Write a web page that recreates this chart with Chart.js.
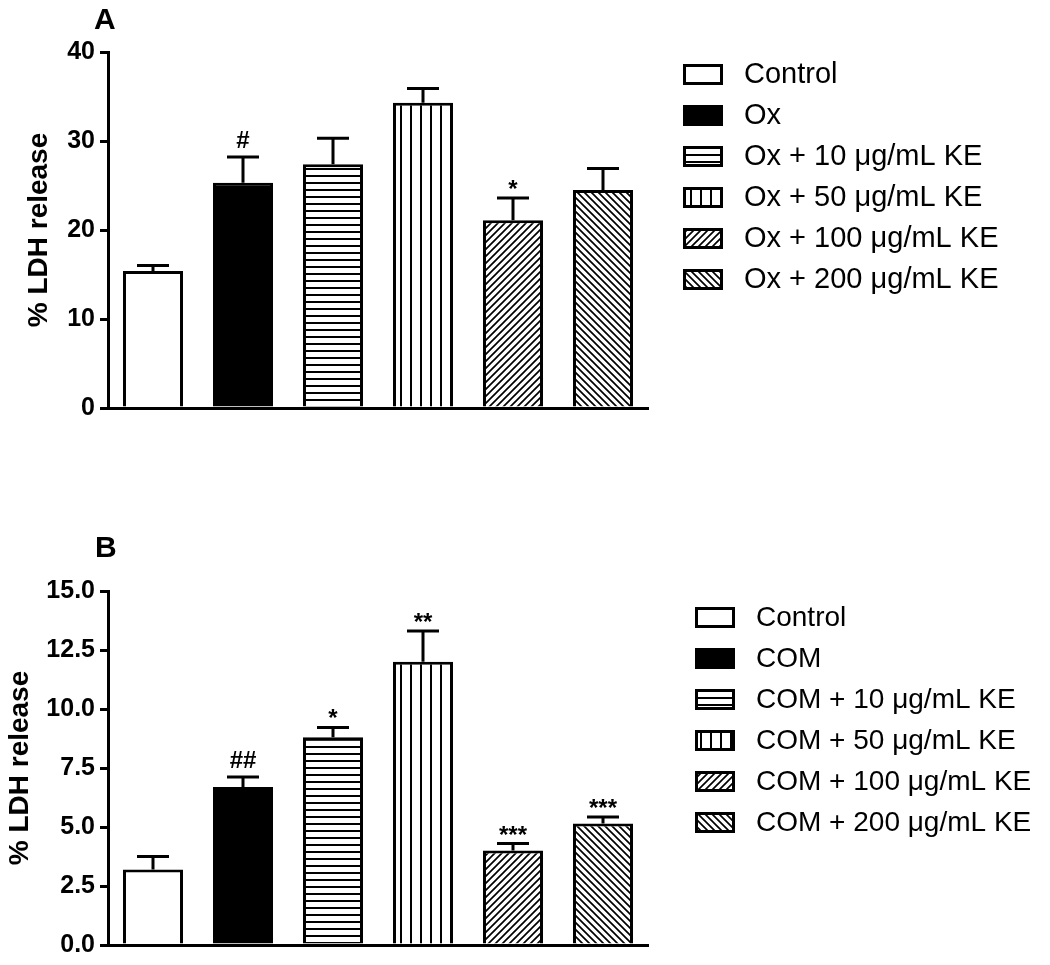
<!DOCTYPE html>
<html>
<head>
<meta charset="utf-8">
<script src="https://cdn.jsdelivr.net/npm/chart.js@4.4.1/dist/chart.umd.min.js"></script>
<style>
  body { margin: 0; background: #fff; }
  #wrap { position: relative; width: 1050px; height: 965px; }
  canvas { position: absolute; left: 0; }
  #chartA { top: 0; }
  #chartB { top: 480px; }
</style>
</head>
<body>
<div id="wrap">
  <canvas id="chartA" width="1050" height="480"></canvas>
  <canvas id="chartB" width="1050" height="485"></canvas>
</div>
<script>
// panel A - oxalate
const groupsA = ['Control', 'Ox', 'Ox + 10 μg/mL KE', 'Ox + 50 μg/mL KE', 'Ox + 100 μg/mL KE', 'Ox + 200 μg/mL KE']
const ldhA = [15.4, 25.3, 27.4, 34.3, 21.1, 24.5]
const semA = [0.6, 2.9, 2.9, 1.6, 2.5, 2.4]
const marksA = ['', '#', '', '', '*', '']
const ticksA = [0, 10, 20, 30, 40]

// panel B - COM crystals
const groupsB = ['Control', 'COM', 'COM + 10 μg/mL KE', 'COM + 50 μg/mL KE', 'COM + 100 μg/mL KE', 'COM + 200 μg/mL KE']
const ldhB = [3.2, 6.7, 8.8, 12.0, 4.0, 5.15]
const semB = [0.55, 0.42, 0.42, 1.3, 0.3, 0.27]
const marksB = ['', '##', '*', '**', '***', '***']
const ticksB = [0, 2.5, 5, 7.5, 10, 12.5, 15]

const FONT = "'Liberation Sans', Arial, Helvetica, sans-serif"

function tile(w, h, draw) {
  const c = document.createElement('canvas')
  c.width = w
  c.height = h
  const g = c.getContext('2d')
  g.fillStyle = '#fff'
  g.fillRect(0, 0, w, h)
  g.fillStyle = '#000'
  g.strokeStyle = '#000'
  draw(g)
  return c.getContext('2d').createPattern(c, 'repeat')
}

function diag(g, s, back) {
  g.lineWidth = 1.7
  g.beginPath()
  const seg = (x1, y1, x2, y2) => {
    if (back) { x1 = s - x1; x2 = s - x2 }
    g.moveTo(x1, y1); g.lineTo(x2, y2)
  }
  seg(0, s, s, 0)
  seg(-1, 1, 1, -1)
  seg(s - 1, s + 1, s + 1, s - 1)
  g.stroke()
}

const fills = [
  '#fff',
  '#000',
  tile(8, 7, g => g.fillRect(0, 0, 8, 2)),
  tile(10, 8, g => g.fillRect(0, 0, 2, 8)),
  tile(7, 7, g => diag(g, 7, false)),
  tile(7, 7, g => diag(g, 7, true)),
]

const extras = {
  id: 'extras',
  afterDatasetsDraw(chart, args, o) {
    const ctx = chart.ctx
    const y = chart.scales.y
    const meta = chart.getDatasetMeta(0)
    ctx.save()
    ctx.strokeStyle = '#000'
    ctx.fillStyle = '#000'
    ctx.lineWidth = 3
    o.errors.forEach((e, i) => {
      const bar = meta.data[i]
      const top = y.getPixelForValue(o.values[i])
      const cap = y.getPixelForValue(o.values[i] + e)
      ctx.beginPath()
      ctx.moveTo(bar.x, top)
      ctx.lineTo(bar.x, cap)
      ctx.moveTo(bar.x - 16, cap)
      ctx.lineTo(bar.x + 16, cap)
      ctx.stroke()
      const m = o.marks[i]
      if (m) {
        ctx.font = 'bold 24px ' + FONT
        ctx.textAlign = 'center'
        ctx.textBaseline = 'alphabetic'
        ctx.fillText(m, bar.x, m.includes('#') ? cap - 9 : cap - 1)
      }
    })
    ctx.restore()
  },
  afterDraw(chart, args, o) {
    const ctx = chart.ctx
    const area = chart.chartArea
    ctx.save()
    // panel letter
    ctx.fillStyle = '#000'
    ctx.font = 'bold 30px ' + FONT
    ctx.textAlign = 'left'
    ctx.textBaseline = 'alphabetic'
    ctx.fillText(o.letter, o.letterX, o.letterY)
    // legend
    const bx = area.right + o.legendDx
    let by = area.top + o.legendDy
    ctx.font = o.legendFont + 'px ' + FONT
    ctx.textBaseline = 'middle'
    o.labels.forEach((lab, i) => {
      ctx.fillStyle = fills[i]
      ctx.fillRect(bx, by, 40, 21)
      ctx.lineWidth = 3
      ctx.strokeStyle = '#000'
      ctx.strokeRect(bx + 1.5, by + 1.5, 37, 18)
      ctx.fillStyle = '#000'
      ctx.fillText(lab, bx + o.textDx, by + 11)
      by += 41
    })
    ctx.restore()
  },
}

function makeChart(id, labels, values, errors, marks, ticks, cfg) {
  const ctx = document.getElementById(id).getContext('2d')
  return new Chart(ctx, {
    type: 'bar',
    data: {
      labels: labels,
      datasets: [{
        data: values,
        backgroundColor: fills,
        borderColor: '#000',
        borderWidth: 3,
        borderSkipped: 'start',
        barPercentage: 0.667,
        categoryPercentage: 1,
      }],
    },
    options: {
      responsive: false,
      animation: false,
      layout: { padding: cfg.padding },
      scales: {
        x: {
          grid: { display: false },
          border: { display: true, color: '#000', width: 3 },
          ticks: { display: false },
          afterFit: s => { s.height = 0 },
        },
        y: {
          min: 0,
          max: ticks[ticks.length - 1],
          afterBuildTicks: s => { s.ticks = ticks.map(v => ({ value: v })) },
          afterFit: s => { s.width = 108 },
          grid: { drawOnChartArea: false, drawTicks: true, tickLength: 8, lineWidth: 3, color: '#000' },
          border: { display: true, color: '#000', width: 3 },
          ticks: {
            color: '#000',
            padding: 5,
            font: { family: FONT, size: 25, weight: 'bold' },
            callback: v => cfg.decimals ? v.toFixed(1) : v,
          },
          title: {
            display: true,
            text: '% LDH release',
            color: '#000',
            font: { family: FONT, size: 28, weight: 'bold', lineHeight: 1.2 },
            padding: { top: cfg.titlePad, bottom: 0 },
          },
        },
      },
      plugins: {
        legend: { display: false },
        tooltip: { enabled: false },
        extras: Object.assign({ labels: labels, values: values, errors: errors, marks: marks }, cfg.extras),
      },
    },
    plugins: [extras],
  })
}

makeChart('chartA', groupsA, ldhA, semA, marksA, ticksA, {
  padding: { left: 0, right: 402, top: 52, bottom: 72 },
  decimals: false,
  titlePad: 22,
  extras: { letter: 'A', letterX: 94, letterY: 29, legendDx: 35, legendDy: 12, textDx: 61, legendFont: 29 },
})

makeChart('chartB', groupsB, ldhB, semB, marksB, ticksB, {
  padding: { left: 0, right: 402, top: 111, bottom: 15 },
  decimals: true,
  titlePad: 3,
  extras: { letter: 'B', letterX: 95, letterY: 77, legendDx: 47, legendDy: 16, textDx: 61, legendFont: 28 },
})
</script>
</body>
</html>
